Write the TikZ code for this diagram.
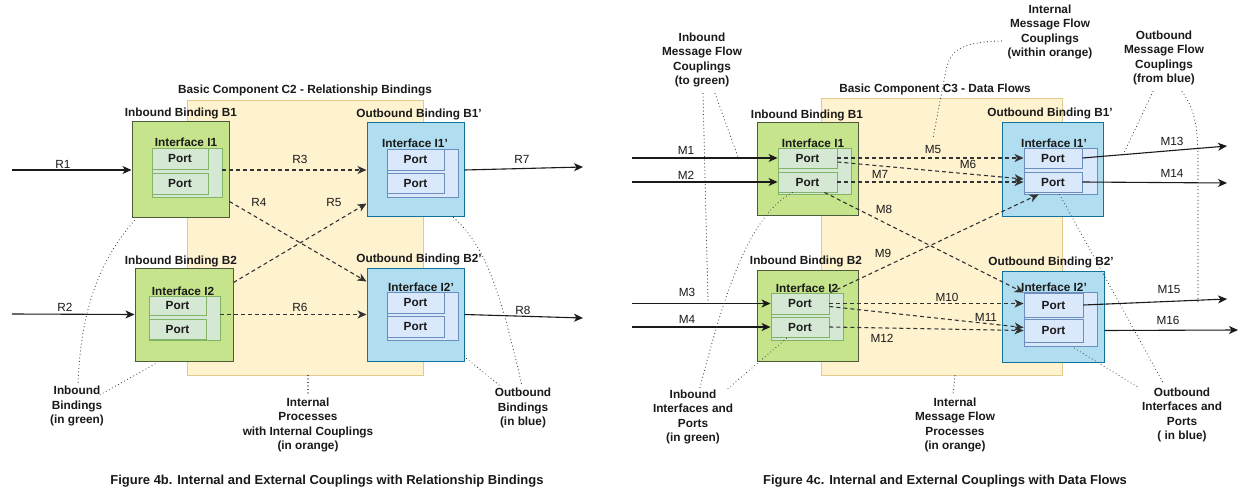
\documentclass[tikz,border=0pt]{standalone}
\usepackage{fontspec}
\setmainfont{Liberation Sans}
\usetikzlibrary{arrows.meta,calc,fit}
\definecolor{gfill}{HTML}{C6E48C}
\definecolor{gstroke}{HTML}{4D5B3A}
\definecolor{gifill}{HTML}{D5E8D4}
\definecolor{gistroke}{HTML}{82B366}
\definecolor{bfill}{HTML}{B1DDF0}
\definecolor{bstroke}{HTML}{10739E}
\definecolor{bifill}{HTML}{DAE8FC}
\definecolor{bistroke}{HTML}{6C8EBF}
\definecolor{ofill}{HTML}{FFF2CF}
\definecolor{ostroke}{HTML}{E2C98E}
\definecolor{ink}{HTML}{1A1A1A}
\definecolor{dink}{HTML}{333333}
\definecolor{dotc}{HTML}{444444}
\newcommand\fs{\fontsize{11.8}{14.5}\selectfont}
\newcommand\sq{{\char"0027}}
\begin{document}
\begin{tikzpicture}[x=1pt,y=-1pt,
  hd/.style={font=\fs\bfseries, text=ink, inner sep=0pt},
  ann/.style={font=\fs\bfseries, text=ink, inner sep=0pt, align=center},
  el/.style={font=\fs, text=ink, inner sep=0pt},
  capt/.style={font=\fontsize{13}{15}\selectfont\bfseries, text=ink, inner sep=0pt},
  orng/.style={draw=ostroke, fill=ofill, line width=0.8pt, inner sep=0pt},
  gbox/.style={draw=gstroke, fill=gfill, line width=1pt, inner sep=0pt},
  gint/.style={draw=gistroke, fill=gifill, line width=0.9pt, inner sep=0pt},
  bbox/.style={draw=bstroke, fill=bfill, line width=1pt, inner sep=0pt},
  bint/.style={draw=bistroke, fill=bifill, line width=0.9pt, inner sep=0pt},
  gport/.style={gint, label={[hd]center:Port}},
  bport/.style={bint, label={[hd]center:Port}},
  arr/.style={draw=ink, line width=1.1pt, -{Stealth[length=9pt,width=8pt,inset=2.5pt]}},
  darr/.style={draw=dink, line width=1.1pt, dash pattern=on 4pt off 3pt, -{Stealth[length=9pt,width=8pt,inset=2.5pt]}},
  dotl/.style={draw=dotc, line width=1.1pt, dash pattern=on 0.1pt off 3.4pt, line cap=round}
]
\fill[white] (0,0) rectangle (1239,489);
\useasboundingbox (0,0) rectangle (1239,489);

%% ================= LEFT: Figure 4b =================
\node[orng, fit={(187,100)(423,375)}] (lC) {};
\node[hd] (lT) at (305,90) {Basic Component C2 - Relationship Bindings};

\node[gbox, fit={(132,122)(229,218)}] (lB1) {};
\node[hd] (lB1t) at (181,113) {Inbound Binding B1};
\node[gint, fit={(152,148)(222,197)}] (lI1) {};
\node[hd] (lI1t) at (186,142) {Interface I1};
\node[gport, fit={(152,148)(208,169)}] (lP11) {};
\node[gport, fit={(152,173)(208,194)}] (lP12) {};

\node[gbox, fit={(135,268)(233,361)}] (lB2) {};
\node[hd] (lB2t) at (181,261) {Inbound Binding B2};
\node[gint, fit={(149,296)(220,340)}] (lI2) {};
\node[hd] (lI2t) at (183,291) {Interface I2};
\node[gport, fit={(149,296)(206,315)}] (lP21) {};
\node[gport, fit={(149,319)(206,339)}] (lP22) {};

\node[bbox, fit={(367,123)(464,217)}] (lB1p) {};
\node[hd] (lB1pt) at (419,114) {Outbound Binding B1\sq};
\node[bint, fit={(387,149)(458,197)}] (lI1p) {};
\node[hd] (lI1pt) at (415,143) {Interface I1\sq};
\node[bport, fit={(387,149)(444,170)}] (lP11p) {};
\node[bport, fit={(387,173)(444,193)}] (lP12p) {};

\node[bbox, fit={(367,268)(464,361)}] (lB2p) {};
\node[hd] (lB2pt) at (419,259) {Outbound Binding B2\sq};
\node[bint, fit={(387,292)(458,340)}] (lI2p) {};
\node[hd] (lI2pt) at (421,287) {Interface I2\sq};
\node[bport, fit={(387,292)(444,313)}] (lP21p) {};
\node[bport, fit={(387,316)(444,337)}] (lP22p) {};

% external and internal couplings
\coordinate (lR1s) at (12,170);
\coordinate (lR2s) at (12,314);
\coordinate (lR7e) at (583,167);
\coordinate (lR8e) at (583,318);
\draw[arr] (lR1s) -- (lB1.west);
\draw[arr] (lR2s) -- (lB2.west);
\draw[darr] (lI1.east |- lB1p.west) -- (lB1p.west);
\draw[darr] ($(lB1.south east)+(0,-17)$) -- ($(lB2p.north west)+(0,14)$);
\draw[darr] ($(lB2.north east)+(0,15)$) -- ($(lB1p.south west)+(0,-14)$);
\draw[darr] (lI2.east |- lB2p.west) -- (lB2p.west);
\draw[arr] (lB1p.east) -- (lR7e);
\draw[arr] (lB2p.east) -- (lR8e);

\node[el] (lR1) at (63,164) {R1};
\node[el] (lR2) at (65,307) {R2};
\node[el] (lR3) at (300,159) {R3};
\node[el] (lR4) at (259,202) {R4};
\node[el] (lR5) at (334,202) {R5};
\node[el] (lR6) at (300,307) {R6};
\node[el] (lR7) at (522,159) {R7};
\node[el] (lR8) at (523,310) {R8};

% annotations
\node[ann] (lAnnIn) at (77,406) {Inbound\\Bindings\\(in green)};
\node[ann] (lAnnProc) at (308,425) {Internal\\Processes\\with Internal Couplings\\(in orange)};
\node[ann] (lAnnOut) at (523,408) {Outbound\\Bindings\\(in blue)};

\draw[dotl] ($(lB1.south west)+(3,2)$) .. controls (95,265) and (80,320) .. ($(lAnnIn.north)+(1,0)$);
\draw[dotl] ($(lAnnIn.north east)+(-4,9)$) -- ($(lB2.south west)+(23,1)$);
\draw[dotl] (lAnnProc.north |- lC.south) -- ($(lAnnProc.north)+(0,-2)$);
\draw[dotl] ($(lB1p.south east)+(-11,0)$) .. controls (485,245) and (500,290) .. ($(lAnnOut.north)+(-1,-2)$);
\draw[dotl] ($(lB2p.south east)+(2,-3)$) -- ($(lAnnOut.north)+(-23,-2)$);

\node[capt] (lCap) at (327,481) {Figure 4b. Internal and External Couplings with Relationship Bindings};

%% ================= RIGHT: Figure 4c =================
\node[orng, fit={(821,98)(1062,375)}] (rC) {};
\node[hd] (rT) at (935,89) {Basic Component C3 - Data Flows};

\node[gbox, fit={(757,123)(858,216)}] (rB1) {};
\node[hd] (rB1t) at (807,115) {Inbound Binding B1};
\node[gint, fit={(778,148)(851,194)}] (rI1) {};
\node[hd] (rI1t) at (813,143) {Interface I1};
\node[gport, fit={(778,148)(837,168)}] (rP11) {};
\node[gport, fit={(778,172)(837,192)}] (rP12) {};

\node[gbox, fit={(757,270)(858,361)}] (rB2) {};
\node[hd] (rB2t) at (806,261) {Inbound Binding B2};
\node[gint, fit={(771,293)(843,340)}] (rI2) {};
\node[hd] (rI2t) at (807,288) {Interface I2};
\node[gport, fit={(771,293)(829,314)}] (rP21) {};
\node[gport, fit={(771,317)(829,337)}] (rP22) {};

\node[bbox, fit={(1002,123)(1103,217)}] (rB1p) {};
\node[hd] (rB1pt) at (1050,113) {Outbound Binding B1\sq};
\node[bint, fit={(1024,148)(1097,194)}] (rI1p) {};
\node[hd] (rI1pt) at (1054,143) {Interface I1\sq};
\node[bport, fit={(1024,148)(1082,168)}] (rP11p) {};
\node[bport, fit={(1024,172)(1082,192)}] (rP12p) {};

\node[bbox, fit={(1002,271)(1104,362)}] (rB2p) {};
\node[hd] (rB2pt) at (1051,262) {Outbound Binding B2\sq};
\node[bint, fit={(1024,292)(1097,346)}] (rI2p) {};
\node[hd] (rI2pt) at (1054,287) {Interface I2\sq};
\node[bport, fit={(1024,293)(1083,317)}] (rP21p) {};
\node[bport, fit={(1024,319)(1083,342)}] (rP22p) {};

% inbound message flows
\coordinate (rM1s) at (632,158);
\coordinate (rM2s) at (632,182);
\coordinate (rM3s) at (632,303.5);
\coordinate (rM4s) at (632,327);
\draw[arr] (rM1s) -- (rP11.west);
\draw[arr] (rM2s) -- (rP12.west);
\draw[arr] (rM3s) -- (rP21.west);
\draw[arr] (rM4s) -- (rP22.west);

% internal message flows
\draw[darr] (rP11.east) -- (rP11p.west);
\draw[darr] ($(rP11.east)+(0,4)$) -- ($(rP12p.west)+(0,-3)$);
\draw[darr] (rP12.east) -- (rP12p.west);
\draw[darr] ($(rP12.south east)+(-13,0)$) -- (rP21p.north west);
\draw[darr] ($(rI2.north east)+(-13,0)$) -- ($(rI1p.south west)+(15,0)$);
\draw[darr] (rP21.east) -- (rP21p.west |- rP21.east);
\draw[darr] ($(rP21.east)+(0,3)$) -- ($(rP22p.west)+(0,-3)$);
\draw[darr] (rP22.east) -- (rP22p.west);

% outbound message flows
\coordinate (rM13e) at (1227,146);
\coordinate (rM14e) at (1227,183);
\coordinate (rM15e) at (1227,299);
\coordinate (rM16e) at (1238,330);
\draw[arr] (rP11p.east) -- (rM13e);
\draw[arr] (rP12p.east) -- (rM14e);
\draw[arr] (rP21p.east) -- (rM15e);
\draw[arr] (rB2p.east |- rP22p.west) -- (rM16e);

\node[el] (rM1) at (686,150) {M1};
\node[el] (rM2) at (686,175) {M2};
\node[el] (rM3) at (687,292) {M3};
\node[el] (rM4) at (687,319) {M4};
\node[el] (rM5) at (933,149) {M5};
\node[el] (rM6) at (968,164) {M6};
\node[el] (rM7) at (880,174) {M7};
\node[el] (rM8) at (884,209) {M8};
\node[el] (rM9) at (883,253) {M9};
\node[el] (rM10) at (947,297) {M10};
\node[el] (rM11) at (986,317) {M11};
\node[el] (rM12) at (882,338) {M12};
\node[el] (rM13) at (1172,141) {M13};
\node[el] (rM14) at (1172,173) {M14};
\node[el] (rM15) at (1169,289) {M15};
\node[el] (rM16) at (1168,320) {M16};

% annotations
\node[ann] (rAnnInMF) at (702,60) {Inbound\\Message Flow\\Couplings\\(to green)};
\node[ann] (rAnnIntMF) at (1050,32) {Internal\\Message Flow\\Couplings\\(within orange)};
\node[ann] (rAnnOutMF) at (1164,58) {Outbound\\Message Flow\\Couplings\\(from blue)};
\node[ann] (rAnnInIP) at (693,417) {Inbound\\Interfaces and\\Ports\\(in green)};
\node[ann] (rAnnProc) at (955,425) {Internal\\Message Flow\\Processes\\(in orange)};
\node[ann] (rAnnOutIP) at (1182,415) {Outbound\\Interfaces and\\Ports\\( in blue)};

\draw[dotl] ($(rAnnInMF.south)+(1,6)$) -- (708,302);
\draw[dotl] ($(rAnnInMF.south)+(13,6)$) -- (738,157);
\draw[dotl] ($(rAnnInIP.north)+(7,-2)$) .. controls (725,290) and (750,215) .. ($(rP12.south west)+(15,0)$);
\draw[dotl] ($(rAnnInIP.north)+(35,-1)$) -- ($(rP22.south west)+(17,0)$);
\draw[dotl] ($(rAnnIntMF.west)+(-6,9)$) .. controls (962,42) and (950,50) .. (946,70) -- (933,138);
\draw[dotl] ($(rAnnOutMF.south)+(-11,6)$) -- (1122,157);
\draw[dotl] ($(rAnnOutMF.south)+(18,6)$) .. controls (1194,108) and (1198,125) .. (1198,160) -- (1198,302);
\draw[dotl] ($(rI1p.south west)+(36,0)$) -- ($(rAnnOutIP.north)+(-19,-5)$);
\draw[dotl] ($(rAnnOutIP.north)+(-45,-1)$) -- ($(rI2p.south west)+(48,0)$);
\draw[dotl] (rAnnProc.north |- rC.south) -- ($(rAnnProc.north)+(-2,-2)$);

\node[capt] (rCap) at (945,481) {Figure 4c. Internal and External Couplings with Data Flows};
\end{tikzpicture}
\end{document}
